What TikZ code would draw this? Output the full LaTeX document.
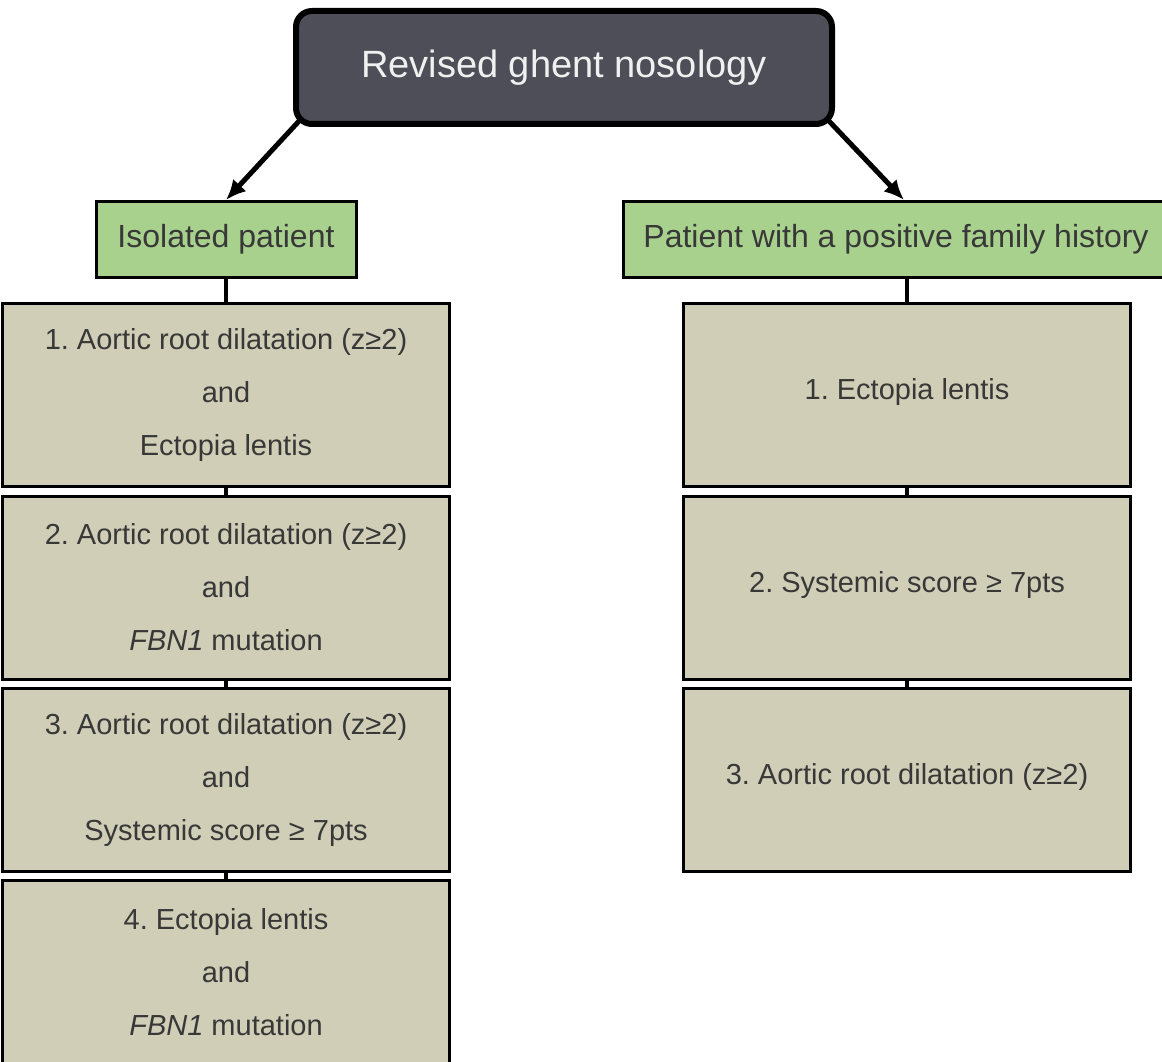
\documentclass[tikz,border=0pt]{standalone}
\usepackage{fontspec}
\setmainfont{Liberation Sans}
\usepackage{tikz}
\usetikzlibrary{arrows.meta}
\frenchspacing
\definecolor{slate}{HTML}{4E4E58}
\definecolor{leaf}{HTML}{A9D18E}
\definecolor{sand}{HTML}{D0CEB6}
\definecolor{ink}{HTML}{383838}
\tikzset{
rootbox/.style={draw=black, line width=6pt, rounded corners=16pt, fill=slate, text=white!94!black, minimum width=536pt, minimum height=113pt, font=\fontsize{38}{44}\selectfont},
groupbox/.style={draw=black, line width=3pt, fill=leaf, text=ink, minimum height=76pt, font=\fontsize{32}{38}\selectfont},
critbox/.style={draw=black, line width=3pt, fill=sand, text=ink, minimum width=447pt, minimum height=183pt, align=center, font=\fontsize{29}{53}\selectfont},
arr/.style={line width=5pt, -{Latex[length=20pt,width=18pt]}},
link/.style={line width=4pt}}

\begin{document}
\begin{tikzpicture}[x=1pt,y=-1pt]
        \useasboundingbox (0,0) rectangle (1162,1062);

                    \node[rootbox] (root) at (564,67.5) {Revised ghent nosology};
                    \node[groupbox, minimum width=260pt] (iso) at (226,239.5) {Isolated patient};
                    \node[groupbox, minimum width=545pt] (fam) at (896,239.5) {Patient with a positive family history};

                    \node[critbox] (i1) at (226,395) {1. Aortic root dilatation (z≥2)\\and\\Ectopia lentis};
                    \node[critbox] (i2) at (226,587.5) {2. Aortic root dilatation (z≥2)\\and\\\textit{FBN1} mutation};
                    \node[critbox] (i3) at (226,779.5) {3. Aortic root dilatation (z≥2)\\and\\Systemic score ≥ 7pts};
                    \node[critbox] (i4) at (226,972) {4. Ectopia lentis\\and\\\textit{FBN1} mutation};

                    \node[critbox] (f1) at (907,395) {\raisebox{12pt}{1. Ectopia lentis}};
                    \node[critbox] (f2) at (907,587.5) {\raisebox{12pt}{2. Systemic score ≥ 7pts}};
                    \node[critbox] (f3) at (907,779.5) {\raisebox{12pt}{3. Aortic root dilatation (z≥2)}};

                    \draw[arr] ([xshift=7pt,yshift=7pt]root.south west) -- (iso.north);
                    \draw[arr] ([xshift=-7pt,yshift=7pt]root.south east) -- ([xshift=8pt]fam.north);
                    \draw[link] (iso.south) -- (i1.north);
                    \draw[link] (i1.south) -- (i2.north);
                    \draw[link] (i2.south) -- (i3.north);
                    \draw[link] (i3.south) -- (i4.north);
                    \draw[link] (f1.north |- fam.south) -- (f1.north);
                    \draw[link] (f1.south) -- (f2.north);
                    \draw[link] (f2.south) -- (f3.north);

                \end{tikzpicture}
\end{document}
